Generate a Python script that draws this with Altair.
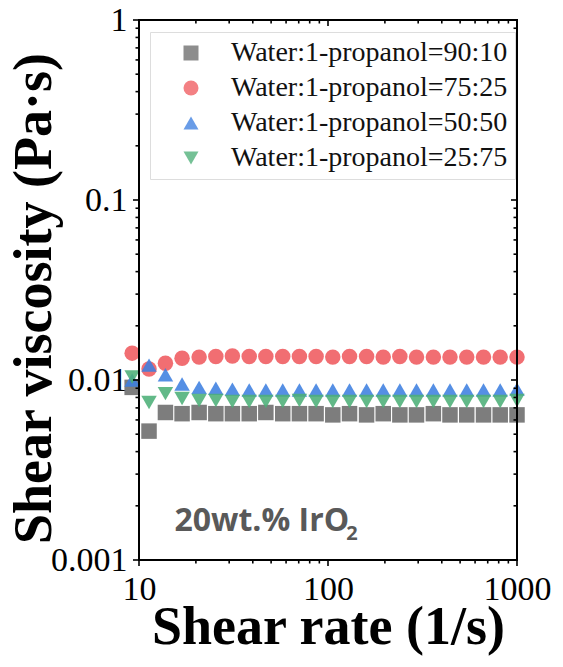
import altair as alt
import pandas as pd

# ---- data ----
shear_rate = [9.2, 11.3, 13.8, 16.9, 20.8, 25.5, 31.2, 38.3, 46.9, 57.6, 70.6, 86.5,
              106, 130, 160, 196, 240, 294, 361, 442, 542, 665, 815, 1000]
series_names = ["Water:1-propanol=90:10", "Water:1-propanol=75:25",
                "Water:1-propanol=50:50", "Water:1-propanol=25:75"]
visc_90_10 = [0.0091, 0.0052, 0.0066, 0.0065, 0.0066, 0.0065, 0.0065, 0.0065, 0.0066, 0.0065,
              0.0065, 0.0065, 0.0064, 0.0065, 0.0064, 0.0065, 0.0064, 0.0064, 0.0065, 0.0064,
              0.0064, 0.0064, 0.0064, 0.0064]
visc_75_25 = [0.0141, 0.0115, 0.0124, 0.0132, 0.0134, 0.0135, 0.0136, 0.0135, 0.0135, 0.0135,
              0.0135, 0.0135, 0.0134, 0.0135, 0.0135, 0.0134, 0.0135, 0.0134, 0.0134, 0.0134,
              0.0134, 0.0134, 0.0134, 0.0134]
visc_50_50 = [0.0100, 0.0121, 0.0107, 0.0095, 0.0091, 0.0090, 0.0089, 0.0088, 0.0088, 0.0088,
              0.0088, 0.0088, 0.0088, 0.0088, 0.0088, 0.0088, 0.0088, 0.0088, 0.0088, 0.0088,
              0.0088, 0.0088, 0.0088, 0.0089]
visc_25_75 = [0.0104, 0.0075, 0.0084, 0.0079, 0.0077, 0.0077, 0.0076, 0.0076, 0.0076, 0.0076,
              0.0077, 0.0076, 0.0076, 0.0076, 0.0076, 0.0076, 0.0076, 0.0076, 0.0076, 0.0076,
              0.0076, 0.0076, 0.0076, 0.0077]
series_values = [visc_90_10, visc_75_25, visc_50_50, visc_25_75]

x_major = [10, 100, 1000]
x_minor = [20, 30, 40, 50, 60, 70, 80, 90, 200, 300, 400, 500, 600, 700, 800, 900]
y_major = [0.001, 0.01, 0.1, 1]
y_minor = [0.002, 0.003, 0.004, 0.005, 0.006, 0.007, 0.008, 0.009,
           0.02, 0.03, 0.04, 0.05, 0.06, 0.07, 0.08, 0.09,
           0.2, 0.3, 0.4, 0.5, 0.6, 0.7, 0.8, 0.9]

annot_main = ["20wt.% IrO"]
annot_main_x = [15.4]
annot_main_y = [0.00144]
annot_sub = ["2"]
annot_sub_x = [125]
annot_sub_y = [0.00129]

colors = ["#6b6b6b", "#ef5a5f", "#3d7fe0", "#4caf77"]
shapes = ["square", "circle", "triangle-up", "triangle-down"]

rows = []
for name, vals in zip(series_names, series_values):
    for xv, yv in zip(shear_rate, vals):
        rows.append({"rate": xv, "visc": yv, "series": name})
df = pd.DataFrame(rows)

W, H = 378, 540
SERIF = "Liberation Serif"
MAJ, MIN = 6, 3.5

xs = alt.Scale(type="log", domain=[10, 1000])
ys = alt.Scale(type="log", domain=[0.001, 1])

x_axis = alt.Axis(orient="bottom", values=x_major, format="~g", ticks=False, domain=False,
                  grid=False, labelFont=SERIF, labelFontSize=34, labelColor="black",
                  labelPadding=12, labelFlush=False, title="Shear rate (1/s)",
                  titleFont=SERIF, titleFontSize=54, titleFontWeight="bold",
                  titleColor="black", titlePadding=-6)
y_axis = alt.Axis(orient="left", values=y_major, format="~g", ticks=False, domain=False,
                  grid=False, labelFont=SERIF, labelFontSize=34, labelColor="black",
                  labelPadding=12, title="Shear viscosity (Pa·s)",
                  titleFont=SERIF, titleFontSize=54, titleFontWeight="bold",
                  titleColor="black", titlePadding=-11, titleY=278)

# plot frame
frame = alt.Chart(pd.DataFrame({"f": [0]})).mark_rect(
    fill="white", fillOpacity=0, stroke="black", strokeWidth=2).encode(
    x=alt.value(0), x2=alt.value(W), y=alt.value(0), y2=alt.value(H))

main = alt.Chart(df).mark_point(filled=True, size=240, opacity=0.88, strokeWidth=0).encode(
    x=alt.X("rate:Q", scale=xs, axis=x_axis),
    y=alt.Y("visc:Q", scale=ys, axis=y_axis),
    color=alt.Color("series:N", sort=series_names,
                    scale=alt.Scale(domain=series_names, range=colors),
                    legend=alt.Legend(title=None, orient="none", legendX=11, legendY=12,
                                      labelFont=SERIF, labelFontSize=28, labelColor="#111",
                                      labelLimit=0,
                                      symbolSize=225, symbolStrokeWidth=0, labelOffset=26,
                                      symbolOffset=20, padding=7, rowPadding=7,
                                      strokeColor="#dddddd", fillColor="white",
                                      symbolOpacity=1)),
    shape=alt.Shape("series:N", sort=series_names,
                    scale=alt.Scale(domain=series_names, range=shapes)),
)


def x_ticks(vals, y_from, y_to):
    return alt.Chart(pd.DataFrame({"rate": vals})).mark_rule(
        color="black", strokeWidth=1.6, opacity=1).encode(
        x=alt.X("rate:Q", scale=xs, axis=x_axis), y=alt.value(y_from), y2=alt.value(y_to))


def y_ticks(vals, x_from, x_to):
    return alt.Chart(pd.DataFrame({"visc": vals})).mark_rule(
        color="black", strokeWidth=1.6, opacity=1).encode(
        y=alt.Y("visc:Q", scale=ys, axis=y_axis), x=alt.value(x_from), x2=alt.value(x_to))


ticks = [
    x_ticks(x_major, H, H + MAJ), x_ticks(x_minor, H, H + MIN),      # bottom, outward
    x_ticks(x_major, 0, MAJ), x_ticks(x_minor, 0, MIN),              # top, inward
    y_ticks(y_major, 0, -MAJ), y_ticks(y_minor, 0, -MIN),            # left, outward
    y_ticks(y_major, W, W - MAJ), y_ticks(y_minor, W, W - MIN),      # right, inward
]

ann1 = alt.Chart(pd.DataFrame({"t": annot_main, "rate": annot_main_x, "visc": annot_main_y})).mark_text(
    align="left", baseline="alphabetic", font="Open Sans", fontWeight="bold", fontSize=32,
    color="#595959").encode(x=alt.X("rate:Q", scale=xs, axis=x_axis),
                            y=alt.Y("visc:Q", scale=ys, axis=y_axis), text="t:N")
ann2 = alt.Chart(pd.DataFrame({"t": annot_sub, "rate": annot_sub_x, "visc": annot_sub_y})).mark_text(
    align="left", baseline="alphabetic", font="Open Sans", fontWeight="bold", fontSize=20,
    color="#595959").encode(x=alt.X("rate:Q", scale=xs, axis=x_axis),
                            y=alt.Y("visc:Q", scale=ys, axis=y_axis), text="t:N")

chart = alt.layer(main, frame, *ticks, ann1, ann2).properties(
    width=W, height=H,
    background="white",
    autosize=alt.AutoSizeParams(type="none"),
    padding={"left": 131, "top": 12, "right": 37, "bottom": 98},
).configure_view(strokeWidth=0)

chart.save("out.html", embed_options={"renderer": "svg", "actions": False})
